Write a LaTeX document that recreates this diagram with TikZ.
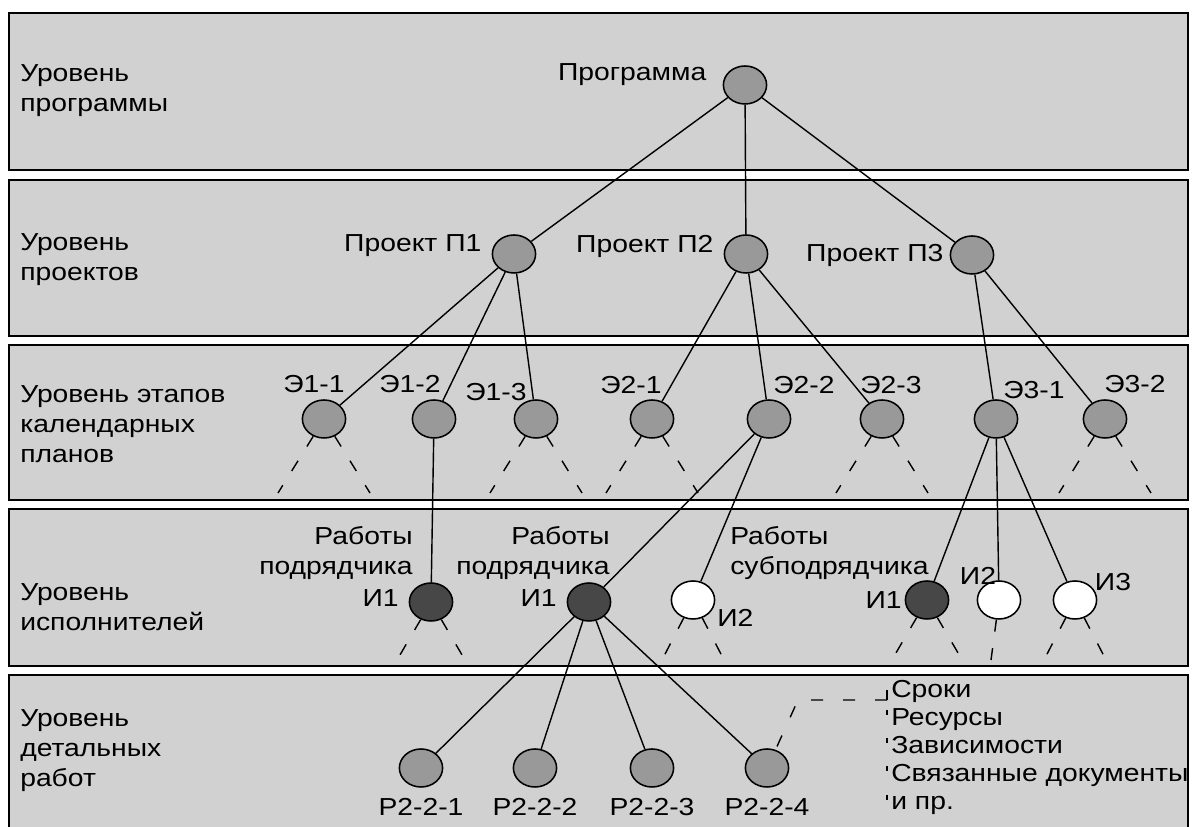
\documentclass[tikz,border=0pt]{standalone}
\usepackage{fontspec}
\setmainfont{Liberation Sans}[FakeStretch=1.15]
\usetikzlibrary{shapes.geometric,positioning}
\newcommand{\lblfont}{\fontsize{17.5pt}{21.3pt}\selectfont}
\tikzset{
  band/.style={fill=black!18, draw, line width=1.3pt},
  vert/.style={ellipse, draw, line width=1.1pt, fill=black!40,
    minimum width=1.08cm, minimum height=0.95cm, inner sep=0pt},
  vdark/.style={vert, fill=black!72},
  vwhite/.style={vert, fill=white},
  lbl/.style={font=\lblfont, inner sep=0pt},
  lst/.style={lbl, align=left, font=\fontsize{17.5pt}{19.9pt}\selectfont},
  link/.style={line width=1pt},
  fanline/.style={line width=1pt, dash pattern=on 0.3cm off 0.42cm},
  dashline/.style={line width=1pt, dash pattern=on 0.3cm off 0.5cm},
}
\begin{document}
\begin{tikzpicture}
  \useasboundingbox (0,0) rectangle (29.925,20.675);
  % levels
  \foreach \ya/\yb in {16.425/20.35, 12.275/16.175, 8.175/12.05, 4.025/7.95, -0.2/3.8}
    \draw[band] (0.225,\ya) rectangle (29.7,\yb);
  \node[lbl, anchor=west, align=left] (lev1) at (0.5,18.4) {Уровень\\программы};
  \node[lbl, anchor=west, align=left] (lev2) at (0.5,14.175) {Уровень\\проектов};
  \node[lbl, anchor=west, align=left] (lev3) at (0.5,10.075) {Уровень этапов\\календарных\\планов};
  \node[lbl, anchor=west, align=left] (lev4) at (0.5,5.5) {Уровень\\исполнителей};
  \node[lbl, anchor=west, align=left] (lev5) at (0.5,1.9) {Уровень\\детальных\\работ};

  % program and projects
  \node[vert] (prog) at (18.625,18.55) {};
  \node[vert] (p1) at (12.85,14.325) {};
  \node[vert] (p2) at (18.65,14.325) {};
  \node[vert] (p3) at (24.3,14.3) {};
  \node[lbl, anchor=east] (prog-t) at ([xshift=-0.4cm,yshift=0.25cm]prog.west) {Программа};
  \node[lbl, anchor=east] (p1-t) at ([xshift=-0.25cm,yshift=0.2cm]p1.west) {Проект П1};
  \node[lbl, anchor=east] (p2-t) at ([xshift=-0.25cm,yshift=0.2cm]p2.west) {Проект П2};
  \node[lbl, anchor=east] (p3-t) at ([xshift=-0.15cm]p3.west) {Проект П3};

  % stages
  \node[vert] (e11) at (8.1,10.2) {};
  \node[vert] (e12) at (10.85,10.2) {};
  \node[vert] (e13) at (13.4,10.2) {};
  \node[vert] (e21) at (16.3,10.2) {};
  \node[vert] (e22) at (19.225,10.2) {};
  \node[vert] (e23) at (22.05,10.2) {};
  \node[vert] (e31) at (24.9,10.2) {};
  \node[vert] (e32) at (27.625,10.2) {};
  \node[lbl] (e11-t) at (7.85,11.075) {Э1-1};
  \node[lbl] (e12-t) at (10.25,11.075) {Э1-2};
  \node[lbl] (e13-t) at (12.4,10.875) {Э1-3};
  \node[lbl] (e21-t) at (15.775,11.05) {Э2-1};
  \node[lbl] (e22-t) at (20.1,11.05) {Э2-2};
  \node[lbl] (e23-t) at (22.275,11.05) {Э2-3};
  \node[lbl] (e31-t) at (25.85,10.925) {Э3-1};
  \node[lbl] (e32-t) at (28.375,11.075) {Э3-2};

  % performers
  \node[vdark] (i1a) at (10.775,5.625) {};
  \node[vdark] (i1b) at (14.725,5.625) {};
  \node[vwhite] (i2b) at (17.325,5.675) {};
  \node[vdark] (i1c) at (23.175,5.675) {};
  \node[vwhite] (i2c) at (24.975,5.675) {};
  \node[vwhite] (i3c) at (26.875,5.675) {};
  \node[lbl, anchor=east, align=right] (w1) at (10.325,6.85) {Работы\\подрядчика};
  \node[lbl, anchor=east, align=right] (w2) at (15.25,6.85) {Работы\\подрядчика};
  \node[lbl, anchor=west, align=left] (w3) at (18.25,6.85) {Работы\\субподрядчика};
  \node[lbl, anchor=east] (i1a-t) at (9.975,5.725) {И1};
  \node[lbl, anchor=east] (i1b-t) at (13.925,5.725) {И1};
  \node[lbl, anchor=west] (i2b-t) at (17.925,5.225) {И2};
  \node[lbl, anchor=east] (i1c-t) at (22.55,5.675) {И1};
  \node[lbl] (i2c-t) at (24.45,6.275) {И2};
  \node[lbl] (i3c-t) at (27.825,6.125) {И3};

  % detailed works
  \node[vert] (r1) at (10.525,1.475) {};
  \node[vert] (r2) at (13.375,1.475) {};
  \node[vert] (r3) at (16.3,1.475) {};
  \node[vert] (r4) at (19.175,1.475) {};
  \node[lbl, below=0.25cm of r1] (r1-t) {Р2-2-1};
  \node[lbl, below=0.25cm of r2] (r2-t) {Р2-2-2};
  \node[lbl, below=0.25cm of r3] (r3-t) {Р2-2-3};
  \node[lbl, below=0.25cm of r4] (r4-t) {Р2-2-4};
  \node[lst, anchor=north west] (attr) at (22.275,3.675)
    {Сроки\\Ресурсы\\Зависимости\\Связанные документы\\и пр.};

  % tree
  \foreach \a/\b in {prog/p1, prog/p2, prog/p3, p1/e11, p1/e12, p1/e13,
      p2/e21, p2/e22, p2/e23, p3/e31, p3/e32, e12/i1a, e22/i1b, e22/i2b,
      e31/i1c, e31/i2c, e31/i3c, i1b/r1, i1b/r2, i1b/r3, i1b/r4}
    \draw[link] (\a) -- (\b);

  % dashed fans
  \foreach \n in {e11,e13,e21,e23,e32} {
    \path (\n) ++(-1.15,-1.85) coordinate (\n-l) (\n) ++(1.15,-1.85) coordinate (\n-r);
    \draw[fanline] (\n) -- (\n-l);
    \draw[fanline] (\n) -- (\n-r);
  }
  \foreach \n/\d in {i1a/0.85, i2b/0.75, i1c/0.85, i3c/0.75} {
    \path (\n) ++(-\d,-1.45) coordinate (\n-l) (\n) ++(\d,-1.45) coordinate (\n-r);
    \draw[fanline] (\n) -- (\n-l);
    \draw[fanline] (\n) -- (\n-r);
  }
  \path (i2c) ++(-0.2,-1.5) coordinate (i2c-d);
  \draw[fanline] (i2c) -- (i2c-d);

  % attributes of a work
  \coordinate (bend) at (19.95,3.175);
  \coordinate (brk) at (22.175,3.175);
  \coordinate (brktop) at (22.175,3.425);
  \coordinate (brkbot) at (22.175,0.675);
  \draw[dashline] (brk) -- (bend) -- (r4.65);
  \draw[line width=1pt, dash pattern=on 0.25cm off 0.25cm on 0.125cm off 0.58cm
    on 0.125cm off 0.58cm on 0.125cm off 0.58cm on 0.125cm off 1cm] (brktop) -- (brkbot);
\end{tikzpicture}
\end{document}
